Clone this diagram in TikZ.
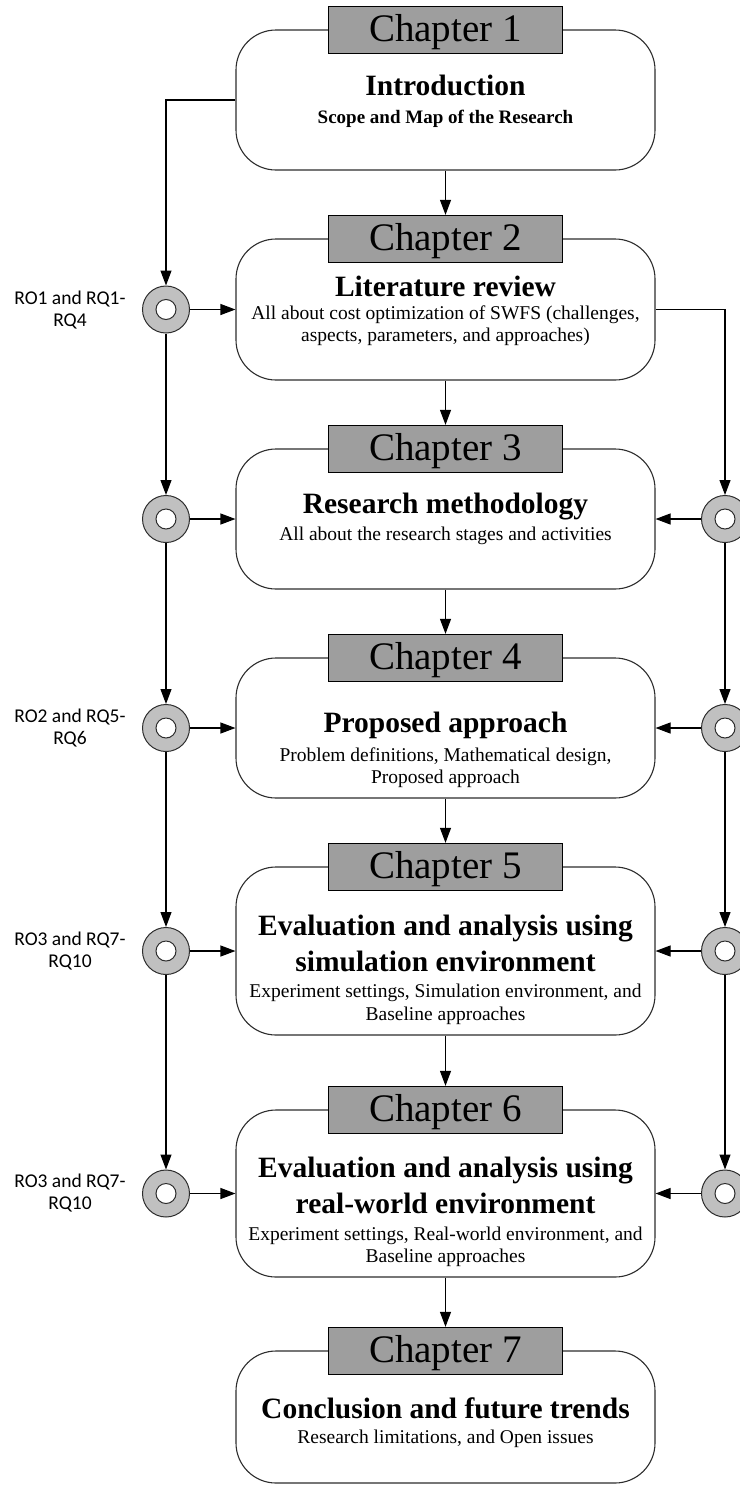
\documentclass[tikz,border=0pt]{standalone}
\usepackage{fontspec}
\setmainfont{Liberation Serif}
\newfontfamily\labelfont{Carlito}
\usetikzlibrary{arrows.meta,positioning}

\definecolor{hdrgray}{RGB}{158,158,158}
\definecolor{hubgray}{RGB}{192,192,192}
\definecolor{edgegray}{RGB}{45,45,45}

\tikzset{
  chapbox/.style={draw=edgegray, line width=1.1pt, fill=white, rounded corners=40pt,
    minimum width=419pt, inner sep=0pt},
  chaphead/.style={draw=black, line width=1.3pt, fill=hdrgray, minimum width=234pt,
    minimum height=47pt, inner sep=0pt, font=\fontsize{39}{40}\selectfont,
    text height=27pt, text depth=4pt},
  titleline/.style={anchor=base, inner sep=0pt, font=\fontsize{29.5}{36}\selectfont\bfseries},
  subline/.style={anchor=base, inner sep=0pt, font=\fontsize{19}{22}\selectfont\bfseries},
  descline/.style={anchor=base, inner sep=0pt, font=\fontsize{19.5}{22.5}\selectfont},
  hub/.style={circle, draw=edgegray, line width=1pt, fill=hubgray, minimum size=47pt, inner sep=0pt,
    path picture={\draw[edgegray, line width=1pt, fill=white]
      (path picture bounding box.center) circle (10pt);}},
  rolabel/.style={align=center, inner sep=0pt,
    font=\labelfont\fontsize{19.5}{22}\selectfont},
  flow/.style={draw=black, line width=1.1pt, -{Triangle[length=15pt,width=11pt]}},
  link/.style={draw=black, line width=1.1pt}
}

\begin{document}
\begin{tikzpicture}[x=1pt,y=-1pt]
\useasboundingbox (0,0) rectangle (739,1486);

% chapter boxes
\node[chapbox, minimum height=140pt] (b1) at (445.5,100) {};
\node[chapbox, minimum height=141pt] (b2) at (445.5,309.5) {};
\node[chapbox, minimum height=140pt] (b3) at (445.5,519) {};
\node[chapbox, minimum height=140pt] (b4) at (445.5,728) {};
\node[chapbox, minimum height=168pt] (b5) at (445.5,951) {};
\node[chapbox, minimum height=167pt] (b6) at (445.5,1193.5) {};
\node[chapbox, minimum height=132pt] (b7) at (445.5,1417) {};

% chapter headings sitting on the top edge of each box
\node[chaphead] (h1) at (445.5,30) {Chapter 1};
\node[chaphead] (h2) at (445.5,239) {Chapter 2};
\node[chaphead] (h3) at (445.5,449) {Chapter 3};
\node[chaphead] (h4) at (445.5,658) {Chapter 4};
\node[chaphead] (h5) at (445.5,867) {Chapter 5};
\node[chaphead] (h6) at (445.5,1110) {Chapter 6};
\node[chaphead] (h7) at (445.5,1351) {Chapter 7};

% box contents
\node[titleline] (t1) at (445.5,95) {Introduction};
\node[subline] (s1) at (445.5,123) {Scope and Map of the Research};

\node[titleline] (t2) at (445.5,296) {Literature review};
\node[descline] (d2a) at (445.5,319) {All about cost optimization of SWFS (challenges,};
\node[descline] (d2b) at (445.5,341) {aspects, parameters, and approaches)};

\node[titleline] (t3) at (445.5,513) {Research methodology};
\node[descline] (d3a) at (445.5,540) {All about the research stages and activities};

\node[titleline] (t4) at (445.5,732) {Proposed approach};
\node[descline] (d4a) at (445.5,761) {Problem definitions, Mathematical design,};
\node[descline] (d4b) at (445.5,783) {Proposed approach};

\node[titleline] (t5a) at (445.5,935) {Evaluation and analysis using};
\node[titleline] (t5b) at (445.5,971) {simulation environment};
\node[descline] (d5a) at (445.5,997) {Experiment settings, Simulation environment, and};
\node[descline] (d5b) at (445.5,1020) {Baseline approaches};

\node[titleline] (t6a) at (445.5,1177) {Evaluation and analysis using};
\node[titleline] (t6b) at (445.5,1213) {real-world environment};
\node[descline] (d6a) at (445.5,1240) {Experiment settings, Real-world environment, and};
\node[descline] (d6b) at (445.5,1262) {Baseline approaches};

\node[titleline] (t7) at (445.5,1418) {Conclusion and future trends};
\node[descline] (d7a) at (445.5,1443) {Research limitations, and Open issues};

% research objective / question hubs
\node[hub] (cL1) at (166,309.5) {};
\node[hub] (cL2) at (166,519) {};
\node[hub] (cL3) at (166,728) {};
\node[hub] (cL4) at (166,951) {};
\node[hub] (cL5) at (166,1193.5) {};
\node[hub] (cR1) at (725,519) {};
\node[hub] (cR2) at (725,728) {};
\node[hub] (cR3) at (725,951) {};
\node[hub] (cR4) at (725,1193.5) {};

\node[rolabel] (r1) at (70,310) {RO1 and RQ1-\\RQ4};
\node[rolabel] (r2) at (70,728) {RO2 and RQ5-\\RQ6};
\node[rolabel] (r3) at (70,951) {RO3 and RQ7-\\RQ10};
\node[rolabel] (r4) at (70,1193.5) {RO3 and RQ7-\\RQ10};

% main chapter sequence
\draw[flow] (b1.south) -- (h2.north);
\draw[flow] (b2.south) -- (h3.north);
\draw[flow] (b3.south) -- (h4.north);
\draw[flow] (b4.south) -- (h5.north);
\draw[flow] (b5.south) -- (h6.north);
\draw[flow] (b6.south) -- (h7.north);

% left trunk from the introduction
\draw[flow] (b1.west) -| (cL1.north);
\draw[flow] (cL1.south) -- (cL2.north);
\draw[flow] (cL2.south) -- (cL3.north);
\draw[flow] (cL3.south) -- (cL4.north);
\draw[flow] (cL4.south) -- (cL5.north);
\draw[flow] (cL1.east) -- (b2.west);
\draw[flow] (cL2.east) -- (b3.west);
\draw[flow] (cL3.east) -- (b4.west);
\draw[flow] (cL4.east) -- (b5.west);
\draw[flow] (cL5.east) -- (b6.west);

% right trunk from the literature review
\draw[flow] (b2.east) -| (cR1.north);
\draw[flow] (cR1.south) -- (cR2.north);
\draw[flow] (cR2.south) -- (cR3.north);
\draw[flow] (cR3.south) -- (cR4.north);
\draw[flow] (cR1.west) -- (b3.east);
\draw[flow] (cR2.west) -- (b4.east);
\draw[flow] (cR3.west) -- (b5.east);
\draw[flow] (cR4.west) -- (b6.east);
\end{tikzpicture}
\end{document}
